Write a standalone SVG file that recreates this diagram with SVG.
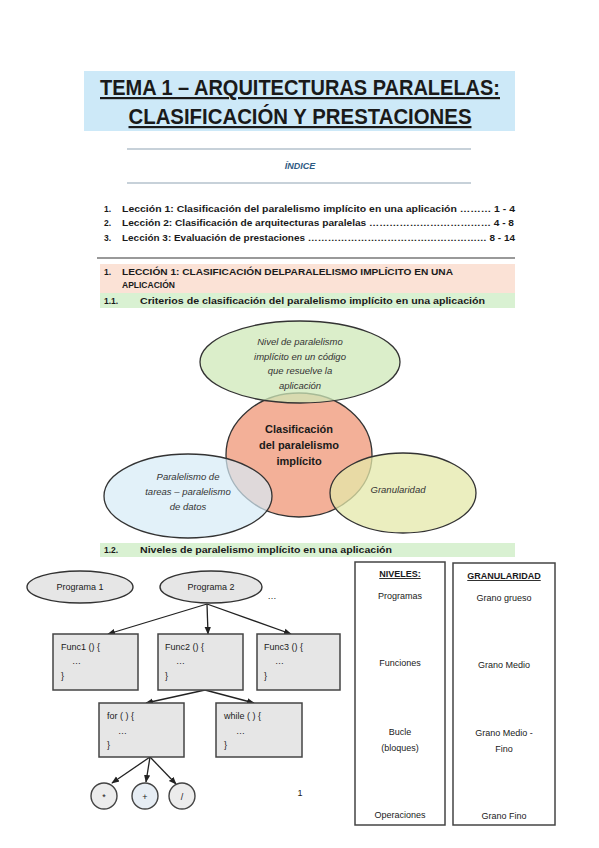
<svg xmlns="http://www.w3.org/2000/svg" width="599" height="848" viewBox="0 0 599 848">
<defs>
<marker id="ah" viewBox="0 0 10 10" refX="9" refY="5" markerWidth="6" markerHeight="6" orient="auto-start-reverse"><path d="M0,1 L10,5 L0,9 z" fill="#222"/></marker>
<style>
text{font-family:"Liberation Sans","Open Sans",Arial,sans-serif;fill:#1a1a1a}
.t{font-size:22px;font-weight:bold;text-decoration:underline;text-anchor:middle}
.idx{font-size:8.5px;font-weight:bold}
.hd{font-size:8.5px;font-weight:bold}
.ei{font-size:9.5px;font-style:italic;text-anchor:middle;fill:#333}
.eb{font-size:11px;font-weight:bold;text-anchor:middle}
.ell{stroke:#333;stroke-width:1.3}
.box{fill:#e6e6e6;stroke:#444;stroke-width:1.5}
.code{font-size:9px}
.conn{stroke:#222;stroke-width:1.3;fill:none;marker-end:url(#ah)}
.col{fill:#fff;stroke:#444;stroke-width:1.5}
.ct{font-size:9px;text-anchor:middle}
</style>
</defs>
<rect width="599" height="848" fill="#fff"/>

<g id="title">
<rect x="84" y="71" width="431" height="60" fill="#cde9f8"/>
<text class="t" x="300" y="95" textLength="400" lengthAdjust="spacingAndGlyphs">TEMA 1 – ARQUITECTURAS PARALELAS:</text>
<text class="t" x="300" y="124" textLength="343" lengthAdjust="spacingAndGlyphs">CLASIFICACIÓN Y PRESTACIONES</text>
</g>

<g id="indice">
<line x1="127" y1="149" x2="471" y2="149" stroke="#8fa3b3" stroke-width="1.2"/>
<line x1="127" y1="183" x2="471" y2="183" stroke="#8fa3b3" stroke-width="1.2"/>
<text x="300" y="169" font-size="9" font-weight="bold" font-style="italic" text-anchor="middle" style="fill:#2e5a82">ÍNDICE</text>
<text class="idx" x="104" y="212">1.</text>
<text class="idx" x="122" y="212" textLength="393" lengthAdjust="spacingAndGlyphs">Lección 1: Clasificación del paralelismo implícito en una aplicación ……… 1 - 4</text>
<text class="idx" x="104" y="226">2.</text>
<text class="idx" x="122" y="226" textLength="392" lengthAdjust="spacingAndGlyphs">Lección 2:  Clasificación de arquitecturas paralelas ……………………………… 4 - 8</text>
<text class="idx" x="104" y="241">3.</text>
<text class="idx" x="122" y="241" textLength="393" lengthAdjust="spacingAndGlyphs">Lección 3: Evaluación de prestaciones ……………………………………………… 8 - 14</text>
</g>

<g id="leccion1">
<line x1="97" y1="258" x2="515" y2="258" stroke="#777" stroke-width="1.5"/>
<rect x="100" y="264" width="415" height="29" fill="#fbe2d6"/>
<text class="hd" x="104" y="275">1.</text>
<text class="hd" x="122" y="275" textLength="331" lengthAdjust="spacingAndGlyphs">LECCIÓN 1: CLASIFICACIÓN DELPARALELISMO IMPLÍCITO EN UNA</text>
<text class="hd" x="122" y="288">APLICACIÓN</text>
<rect x="100" y="293" width="415" height="15" fill="#d9f1d2"/>
<text class="hd" x="104" y="304">1.1.</text>
<text class="hd" x="140" y="304" textLength="345" lengthAdjust="spacingAndGlyphs">Criterios de clasificación del paralelismo implícito en una aplicación</text>
</g>

<g id="e-clasificacion">
<ellipse class="ell" cx="299" cy="455" rx="73" ry="62" fill="#f3b098"/>
</g>
<g id="e-nivel">
<ellipse class="ell" cx="300" cy="362" rx="100" ry="41" fill="#cfe8b8" fill-opacity="0.75"/>
<text class="ei" x="300" y="345">Nivel de paralelismo</text>
<text class="ei" x="300" y="360">implícito en un código</text>
<text class="ei" x="300" y="374">que resuelve la</text>
<text class="ei" x="300" y="389">aplicación</text>
</g>
<g id="e-tareas">
<ellipse class="ell" cx="188" cy="496" rx="84" ry="42" fill="#d6ebf7" fill-opacity="0.7"/>
<text class="ei" x="188" y="480">Paralelismo de</text>
<text class="ei" x="188" y="495">tareas – paralelismo</text>
<text class="ei" x="188" y="510">de datos</text>
</g>
<g id="e-granularidad">
<ellipse class="ell" cx="403" cy="493" rx="73" ry="40" fill="#e4e8aa" fill-opacity="0.75"/>
<text class="ei" x="398" y="493">Granularidad</text>
</g>
<g id="e-clasificacion-label">
<text class="eb" x="299" y="433">Clasificación</text>
<text class="eb" x="299" y="449">del paralelismo</text>
<text class="eb" x="299" y="465">implícito</text>
</g>

<g id="sec12">
<rect x="100" y="543" width="415" height="14" fill="#d9f1d2"/>
<text class="hd" x="104" y="553">1.2.</text>
<text class="hd" x="140" y="553" textLength="252" lengthAdjust="spacingAndGlyphs">Niveles de paralelismo implícito en una aplicación</text>
</g>

<g id="connectors">
<line class="conn" x1="207" y1="604" x2="108" y2="634"/>
<line class="conn" x1="207" y1="604" x2="208" y2="634"/>
<line class="conn" x1="207" y1="604" x2="291" y2="634"/>
<line class="conn" x1="205" y1="690" x2="146" y2="703"/>
<line class="conn" x1="205" y1="690" x2="254" y2="703"/>
<line class="conn" x1="150" y1="757" x2="112" y2="783"/>
<line class="conn" x1="150" y1="757" x2="146" y2="782"/>
<line class="conn" x1="150" y1="757" x2="176" y2="784"/>
</g>

<g id="programa1">
<ellipse cx="80" cy="587" rx="53" ry="16" fill="#e6e6e6" stroke="#333" stroke-width="1.4"/>
<text x="80" y="590" font-size="9" text-anchor="middle">Programa 1</text>
</g>
<g id="programa2">
<ellipse cx="211" cy="587" rx="51" ry="16" fill="#e6e6e6" stroke="#333" stroke-width="1.4"/>
<text x="211" y="590" font-size="9" text-anchor="middle">Programa 2</text>
</g>
<text x="272" y="599" font-size="9" text-anchor="middle">…</text>

<g id="func1">
<rect class="box" x="53" y="634" width="85" height="56"/>
<text class="code" x="61" y="650">Func1 () {</text>
<text class="code" x="72" y="664">…</text>
<text class="code" x="61" y="679">}</text>
</g>
<g id="func2">
<rect class="box" x="158" y="634" width="85" height="56"/>
<text class="code" x="165" y="650">Func2 () {</text>
<text class="code" x="176" y="664">…</text>
<text class="code" x="165" y="679">}</text>
</g>
<g id="func3">
<rect class="box" x="257" y="634" width="83" height="56"/>
<text class="code" x="264" y="650">Func3 () {</text>
<text class="code" x="275" y="664">…</text>
<text class="code" x="264" y="679">}</text>
</g>
<g id="for">
<rect class="box" x="99" y="703" width="85" height="54"/>
<text class="code" x="107" y="719">for ( ) {</text>
<text class="code" x="118" y="734">…</text>
<text class="code" x="107" y="748">}</text>
</g>
<g id="while">
<rect class="box" x="216" y="703" width="86" height="54"/>
<text class="code" x="224" y="719">while (   ) {</text>
<text class="code" x="236" y="734">…</text>
<text class="code" x="224" y="748">}</text>
</g>
<g id="op-mul">
<circle cx="104" cy="796" r="13" fill="#ececec" stroke="#444" stroke-width="1.4"/>
<text x="104" y="800" font-size="9" text-anchor="middle">*</text>
</g>
<g id="op-add">
<circle cx="145" cy="796" r="13" fill="#e6edf4" stroke="#444" stroke-width="1.4"/>
<text x="145" y="800" font-size="9" text-anchor="middle">+</text>
</g>
<g id="op-div">
<circle cx="182" cy="796" r="13" fill="#ececec" stroke="#444" stroke-width="1.4"/>
<text x="182" y="800" font-size="9" text-anchor="middle">/</text>
</g>

<text x="300" y="796" font-size="9" text-anchor="middle">1</text>

<g id="niveles">
<rect class="col" x="355" y="562" width="90" height="263"/>
<text class="ct" x="400" y="577" font-weight="bold" text-decoration="underline">NIVELES:</text>
<text class="ct" x="400" y="599">Programas</text>
<text class="ct" x="400" y="666">Funciones</text>
<text class="ct" x="400" y="735">Bucle</text>
<text class="ct" x="400" y="751">(bloques)</text>
<text class="ct" x="400" y="818">Operaciones</text>
</g>
<g id="granularidad">
<rect class="col" x="453" y="563" width="102" height="262"/>
<text class="ct" x="504" y="579" font-weight="bold" text-decoration="underline">GRANULARIDAD</text>
<text class="ct" x="504" y="601">Grano grueso</text>
<text class="ct" x="504" y="668">Grano Medio</text>
<text class="ct" x="504" y="736">Grano Medio -</text>
<text class="ct" x="504" y="752">Fino</text>
<text class="ct" x="504" y="819">Grano Fino</text>
</g>
</svg>
